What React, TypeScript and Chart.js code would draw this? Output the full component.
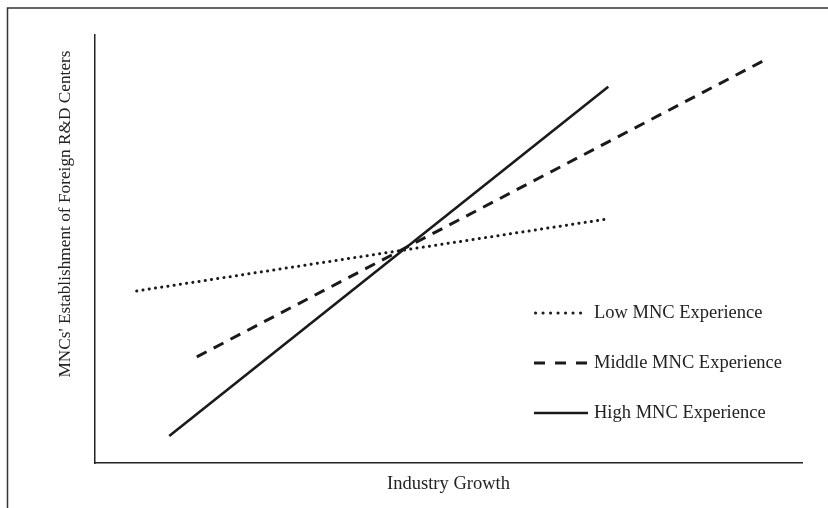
import React, { useEffect, useRef } from "react";
import { Chart, registerables } from "chart.js";

Chart.register(...registerables);

const seriesLabels = ["Low MNC Experience", "Middle MNC Experience", "High MNC Experience"];
const lowX = [5.9, 72.4];
const lowY = [40.2, 57.0];
const midX = [14.4, 94.8];
const midY = [24.8, 94.2];
const highX = [10.5, 72.6];
const highY = [6.3, 87.9];
const xTitle = "Industry Growth";
const yTitle = "MNCs' Establishment of Foreign R&D Centers";

const FONT = '"Liberation Serif", "Times New Roman", serif';
const INK = "#1a1a1a";

const toPts = (xs: number[], ys: number[]) => xs.map((x, i) => ({ x, y: ys[i] }));

const dashes: number[][] = [[0.1, 6.2], [11, 8], []];
const widths = [3, 3, 2.6];

const decor = {
  id: "decor",
  beforeDraw(chart: any) {
    const { ctx, width } = chart;
    ctx.save();
    ctx.strokeStyle = "#333";
    ctx.lineWidth = 1.5;
    ctx.beginPath();
    ctx.moveTo(7.5, chart.height);
    ctx.lineTo(7.5, 8);
    ctx.lineTo(width, 8);
    ctx.stroke();
    ctx.restore();
  },
  afterDraw(chart: any) {
    const { ctx, chartArea: a } = chart;
    ctx.save();
    ctx.fillStyle = "#222";
    ctx.font = `18.5px ${FONT}`;
    ctx.textBaseline = "middle";
    ctx.textAlign = "center";
    ctx.fillText(xTitle, (a.left + a.right) / 2, a.bottom + 21);
    ctx.save();
    ctx.font = `17.3px ${FONT}`;
    ctx.translate(a.left - 30, a.top + 179);
    ctx.rotate(-Math.PI / 2);
    ctx.fillText(yTitle, 0, 0);
    ctx.restore();
    // legend
    ctx.textAlign = "left";
    const lx = a.left + 439;
    chart.data.datasets.forEach((ds: any, i: number) => {
      const y = a.top + 278 + i * 50;
      ctx.save();
      ctx.strokeStyle = INK;
      ctx.lineWidth = widths[i];
      ctx.lineCap = i === 0 ? "round" : "butt";
      ctx.setLineDash(i === 0 ? [0.1, 7.4] : i === 1 ? [11, 10] : []);
      ctx.beginPath();
      ctx.moveTo(i === 0 ? lx + 1.5 : lx, y);
      ctx.lineTo(lx + 54, y);
      ctx.stroke();
      ctx.restore();
      ctx.fillText(ds.label, lx + 60, y);
    });
    ctx.restore();
  },
};

export default function App() {
  const ref = useRef<HTMLCanvasElement>(null);
  useEffect(() => {
    if (!ref.current) return;
    const series = [toPts(lowX, lowY), toPts(midX, midY), toPts(highX, highY)];
    const chart = new Chart(ref.current, {
      type: "line",
      data: {
        datasets: series.map((d, i) => ({
          label: seriesLabels[i],
          data: d,
          borderColor: INK,
          borderWidth: widths[i],
          borderDash: dashes[i],
          borderCapStyle: i === 0 ? "round" : "butt",
          pointRadius: 0,
          fill: false,
          tension: 0,
        })),
      },
      options: {
        animation: false,
        responsive: false,
        devicePixelRatio: 1,
        layout: { padding: { left: 95, right: 26, top: 35, bottom: 45 } },
        plugins: { legend: { display: false }, tooltip: { enabled: false } },
        scales: {
          x: {
            type: "linear",
            min: 0,
            max: 100,
            ticks: { display: false },
            grid: { display: false, drawTicks: false },
            border: { display: true, color: "#222", width: 1.5 },
            afterFit: (s: any) => { s.height = 0; },
          },
          y: {
            type: "linear",
            min: 0,
            max: 100,
            ticks: { display: false },
            grid: { display: false, drawTicks: false },
            border: { display: true, color: "#222", width: 1.5 },
            afterFit: (s: any) => { s.width = 0; },
          },
        },
      },
      plugins: [decor],
    } as any);
    return () => chart.destroy();
  }, []);
  return (
    <div style={{ position: "absolute", left: 0, top: 0, width: 828, height: 508, background: "#fff" }}>
      <canvas ref={ref} width={828} height={508} style={{ display: "block" }} />
    </div>
  );
}
